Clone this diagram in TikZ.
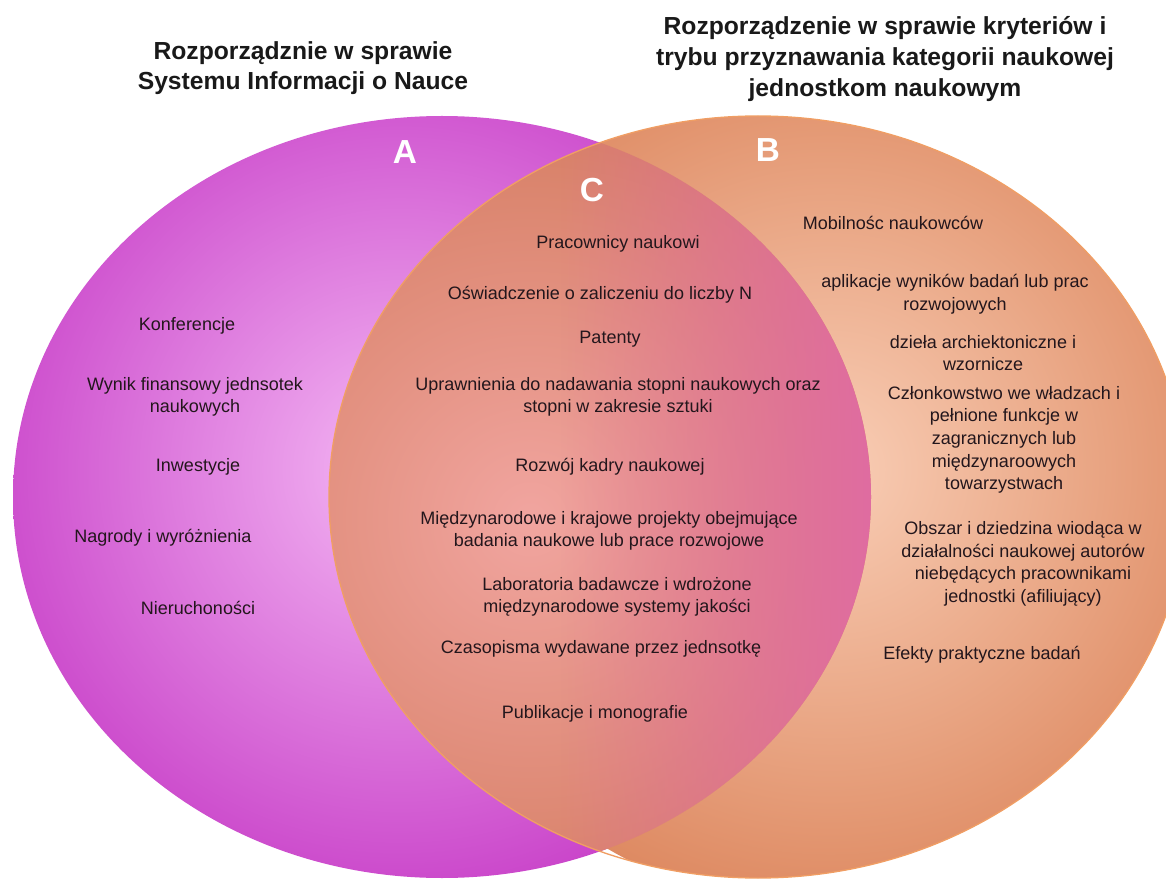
\documentclass[tikz,border=0pt]{standalone}
\usepackage{fontspec}
\setmainfont{Liberation Sans}
\usetikzlibrary{fadings}
\definecolor{Alight}{RGB}{244,184,244}
\definecolor{Adark}{RGB}{200,64,200}
\definecolor{Blight}{RGB}{249,206,182}
\definecolor{Bdark}{RGB}{222,138,98}
\definecolor{Clight}{RGB}{241,165,160}
\definecolor{Cdark}{RGB}{215,128,102}
\definecolor{Cmag}{RGB}{224,108,162}
\definecolor{Bline}{RGB}{240,158,100}
\definecolor{txt}{RGB}{35,22,28}
\tikzfading[name=fadeR, left color=transparent!100, right color=transparent!0]
\tikzset{
  body/.style={font=\fontsize{13.5}{17}\selectfont, align=center, text=txt, inner sep=0pt},
  ttl/.style={font=\bfseries\fontsize{18.5}{23}\selectfont, align=center, text=black!90, inner sep=0pt},
  lab/.style={font=\bfseries\fontsize{25}{30}\selectfont, text=white, inner sep=0pt},
}
\begin{document}
\begin{tikzpicture}[x=0.75pt,y=0.75pt]
\useasboundingbox (0,0) rectangle (1166,879);
% set A
\begin{scope}
  \clip (442,382) ellipse [x radius=429, y radius=381];
  \shade[inner color=Alight, outer color=Adark] (400,410) circle (450);
\end{scope}
% set B
\begin{scope}
  \clip (758,382) ellipse [x radius=429, y radius=381];
  \shade[inner color=Blight, outer color=Bdark] (830,410) circle (440);
\end{scope}
% intersection C
\begin{scope}
  \clip (442,382) ellipse [x radius=429, y radius=381];
  \clip (758,382) ellipse [x radius=429, y radius=381];
  \shade[inner color=Clight, outer color=Cdark] (530,360) circle (390);
  \fill[Cmag, path fading=fadeR, fit fading=true] (560,0) rectangle (875,879);
\end{scope}
\draw[Bline, line width=1] (758,382) ellipse [x radius=429, y radius=381];

% titles
\node[ttl] (tA) at (303,811) {Rozporządznie w sprawie\\Systemu Informacji o Nauce};
\node[ttl] (tB) at (885,820) {Rozporządzenie w sprawie kryteriów i\\trybu przyznawania kategorii naukowej\\jednostkom naukowym};

% labels
\node[lab] (la) at (405,727) {A};
\node[lab] (lb) at (768,729) {B};
\node[lab] (lc) at (592,689) {C};

% A only
\node[body] (a1) at (187,553) {Konferencje};
\node[body] (a2) at (195,482) {Wynik finansowy jednsotek\\naukowych};
\node[body] (a3) at (198,412) {Inwestycje};
\node[body] (a4) at (163,341) {Nagrody i wyróżnienia};
\node[body] (a5) at (198,271) {Nieruchoności};

% C
\node[body] (c1) at (618,635) {Pracownicy naukowi};
\node[body] (c2) at (600,584) {Oświadczenie o zaliczeniu do liczby N};
\node[body] (c3) at (610,540) {Patenty};
\node[body] (c4) at (618,482) {Uprawnienia do nadawania stopni naukowych oraz\\stopni w zakresie sztuki};
\node[body] (c5) at (610,412) {Rozwój kadry naukowej};
\node[body] (c6) at (609,348) {Międzynarodowe i krajowe projekty obejmujące\\badania naukowe lub prace rozwojowe};
\node[body] (c7) at (617,282) {Laboratoria badawcze i wdrożone\\międzynarodowe systemy jakości};
\node[body] (c8) at (601,230) {Czasopisma wydawane przez jednsotkę};
\node[body] (c9) at (595,165) {Publikacje i monografie};

% B only
\node[body] (b1) at (893,656) {Mobilnośc naukowców};
\node[body] (b2) at (955,585) {aplikacje wyników badań lub prac\\rozwojowych};
\node[body] (b3) at (983,526) {dzieła archiektoniczne i\\wzornicze};
\node[body] (b4) at (1004,439) {Członkowstwo we władzach i\\pełnione funkcje w\\zagranicznych lub\\międzynaroowych\\towarzystwach};
\node[body] (b5) at (1023,315) {Obszar i dziedzina wiodąca w\\działalności naukowej autorów\\niebędących pracownikami\\jednostki (afiliujący)};
\node[body] (b6) at (982,224) {Efekty praktyczne badań};
\end{tikzpicture}
\end{document}
